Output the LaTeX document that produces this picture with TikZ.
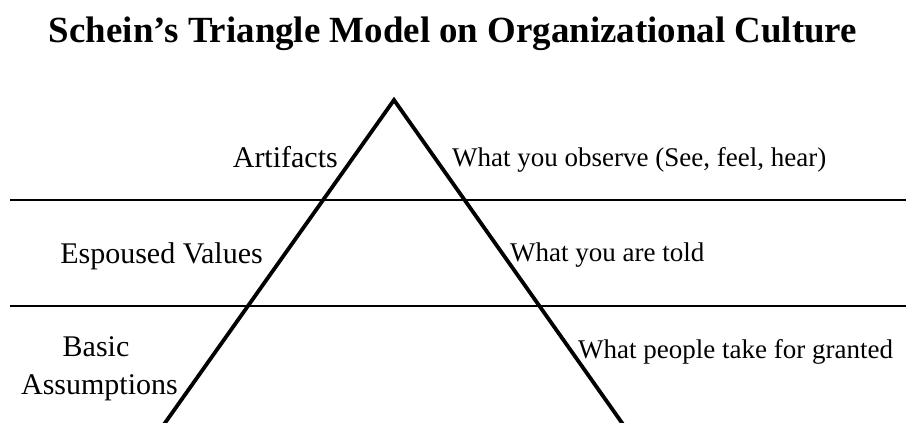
\documentclass[tikz,border=0pt]{standalone}
\usepackage{fontspec}
\setmainfont{Liberation Serif}
\begin{document}
\begin{tikzpicture}[x=1pt,y=-1pt,
  heading/.style={inner sep=0pt, font=\bfseries\fontsize{36.9}{40}\selectfont},
  layername/.style={inner sep=0pt, font=\fontsize{30}{38}\selectfont},
  layernote/.style={inner sep=0pt, font=\fontsize{27}{32}\selectfont},
  divider/.style={line width=2.8pt},
  pyramid/.style={line width=3.8pt, line join=miter}]
  % page frame
  \clip (0,0) rectangle (906,423);
  \fill[white] (0,0) rectangle (906,423);

  % title
  \node[heading, anchor=base] (title) at (453,42)
    {Schein’s Triangle Model on Organizational Culture};

  % horizontal layer dividers
  \coordinate (d1w) at (10,200);
  \coordinate (d1e) at (906,200);
  \coordinate (d2w) at (10,306);
  \coordinate (d2e) at (906,306);
  \draw[divider] (d1w) -- (d1e);
  \draw[divider] (d2w) -- (d2e);

  % open triangle running off the bottom edge
  \coordinate (apex) at (394,100);
  \coordinate (footw) at (160,430);
  \coordinate (foote) at (627,430);
  \draw[pyramid] (footw) -- (apex) -- (foote);

  % layer names on the left
  \node[layername, anchor=base east] (artifacts) at (338,167) {Artifacts};
  \node[layername, anchor=base east] (espoused) at (263,263) {Espoused Values};
  \node[layername, anchor=base] (basic) at (96,356) {Basic};
  \node[layername, anchor=base east] (assumptions) at (178,394) {Assumptions};

  % what each layer means, on the right
  \node[layernote, anchor=base west] (observe) at (452,166)
    {What you observe (See, feel, hear)};
  \node[layernote, anchor=base west] (told) at (510,261) {What you are told};
  \node[layernote, anchor=base west] (granted) at (578,358)
    {What people take for granted};
\end{tikzpicture}
\end{document}
